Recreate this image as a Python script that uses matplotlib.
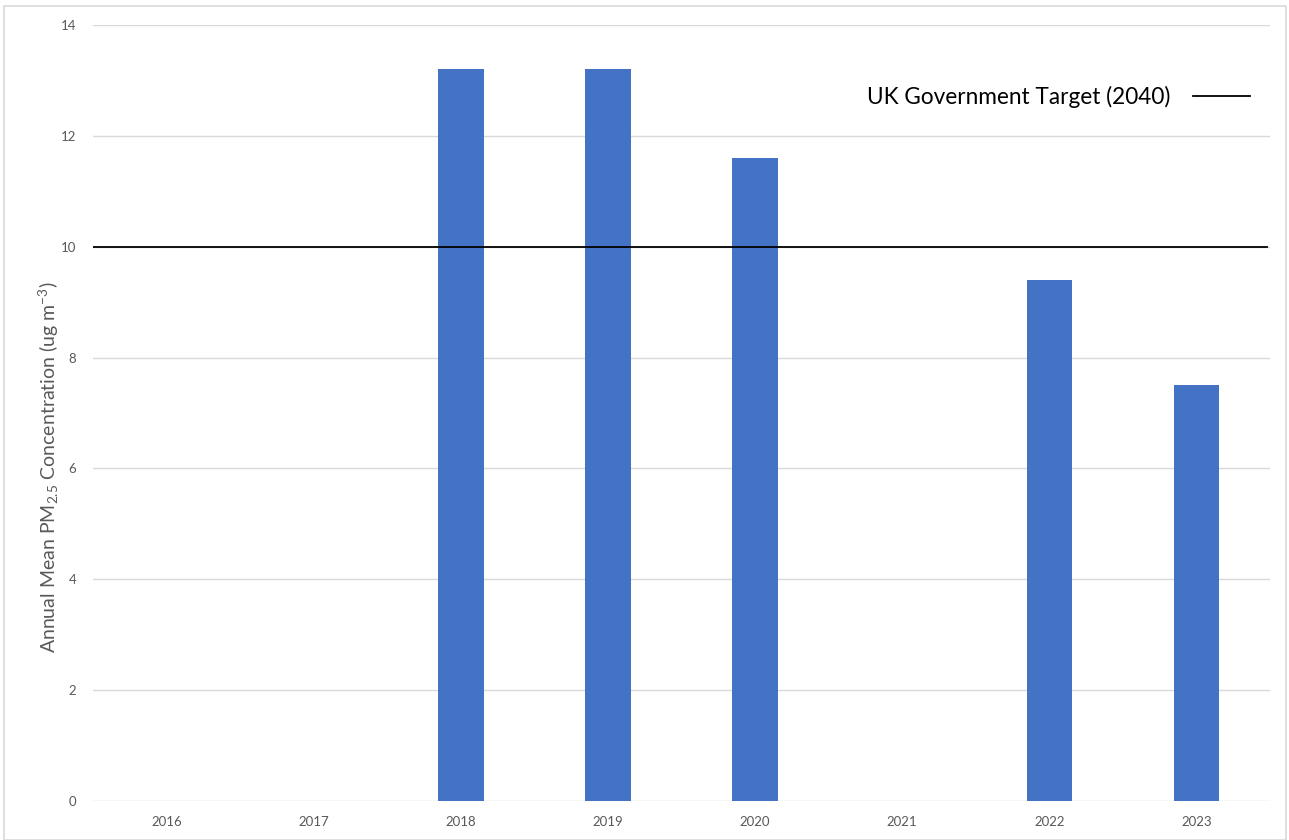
import matplotlib.pyplot as plt
from matplotlib.patches import Rectangle
from matplotlib.lines import Line2D

# annual mean PM2.5 per year (0 = no data)
years = ['2016', '2017', '2018', '2019', '2020', '2021', '2022', '2023']
pm25 = [0, 0, 13.2, 13.2, 11.6, 0, 9.4, 7.5]
target = 10
yticks = [0, 2, 4, 6, 8, 10, 12, 14]

plt.rcParams['font.family'] = ['Lato', 'DejaVu Sans']
plt.rcParams['mathtext.fontset'] = 'custom'
plt.rcParams['mathtext.rm'] = 'Lato'
plt.rcParams['mathtext.default'] = 'rm'

fig = plt.figure(figsize=(12.89, 8.4), dpi=100)
ax = fig.add_axes([93/1289, 1-801/840, 1177/1289, 776/840])

# outer chart border
fig.patches.append(Rectangle((4/1289, 0), 1282/1289, 1-6/840, transform=fig.transFigure,
                             fill=False, edgecolor='#d9d9d9', lw=1.2))

x = list(range(len(years)))
ax.bar(x, pm25, width=0.31, color='#4472c4', zorder=2)
ax.plot([-0.5, 7.48], [target, target], color='black', lw=1.3, zorder=3)

ax.set_xlim(-0.5, 7.5)
ax.set_ylim(0, 14)
ax.set_xticks(x)
ax.set_xticklabels(years)
ax.set_yticks(yticks)
ax.tick_params(length=0, labelsize=9.5, colors='#595959', pad=11)
ax.tick_params(axis='y', pad=12)
ax.grid(axis='y', color='#d9d9d9', lw=1)
ax.set_axisbelow(True)
for s in ax.spines.values():
    s.set_visible(False)

ax.set_ylabel('Annual Mean PM$_{2.5}$ Concentration (ug m$^{-3}$)',
              fontsize=14, color='#595959')
ax.yaxis.set_label_coords(-0.027, 0.43)

handle = Line2D([], [], color='black', lw=1.3)
leg = ax.legend([handle], ['UK Government Target (2040)'], loc='upper right',
                bbox_to_anchor=(1.0, 0.948), frameon=False, markerfirst=False,
                fontsize=16.3, handlelength=2.5, handletextpad=1.0)

fig.savefig('out.png', dpi=100)
